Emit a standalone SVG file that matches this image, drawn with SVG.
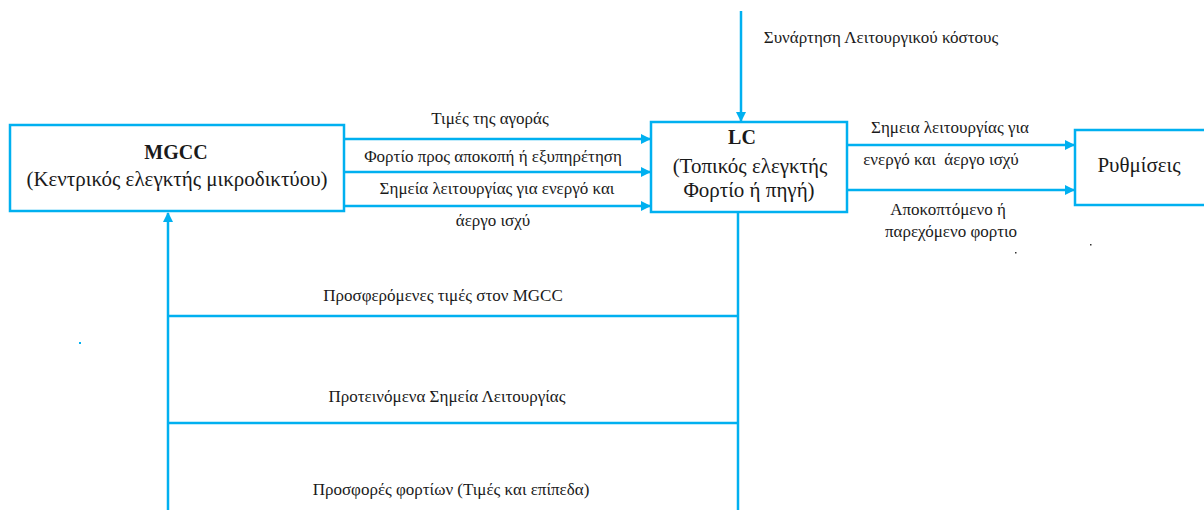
<svg xmlns="http://www.w3.org/2000/svg" width="1204" height="510" viewBox="0 0 1204 510">
  <style>
    .box { fill: #ffffff; stroke: #00B0F0; stroke-width: 2.5; }
    .wire { fill: none; stroke: #00B0F0; stroke-width: 2.5; }
    text { font-family: "Liberation Serif", "Times New Roman", "DejaVu Serif", serif; fill: #1a1a1a; text-anchor: middle; }
    .lbl { font-size: 17px; }
    .big { font-size: 21px; }
    .bold { font-weight: bold; font-size: 20px; }
    .pre { white-space: pre; }
  </style>
  <defs>
    <marker id="arrow" viewBox="0 0 10 10" refX="9" refY="5" markerWidth="4" markerHeight="4" orient="auto" markerUnits="strokeWidth">
      <path d="M0,0 L10,5 L0,10 z" fill="#00B0F0"/>
    </marker>
  </defs>

  <rect width="1204" height="510" fill="#ffffff"/>

  <!-- connectors -->
  <g id="connectors">
    <!-- MGCC to LC -->
    <line class="wire" x1="344" y1="139" x2="650" y2="139" marker-end="url(#arrow)"/>
    <line class="wire" x1="344" y1="172" x2="650" y2="172" marker-end="url(#arrow)"/>
    <line class="wire" x1="344" y1="206" x2="650" y2="206" marker-end="url(#arrow)"/>
    <!-- operating cost function into LC -->
    <line class="wire" x1="741" y1="11" x2="741" y2="121" marker-end="url(#arrow)"/>
    <!-- LC to settings -->
    <line class="wire" x1="847" y1="145" x2="1074" y2="145" marker-end="url(#arrow)"/>
    <line class="wire" x1="847" y1="190" x2="1074" y2="190" marker-end="url(#arrow)"/>
    <!-- feedback bus LC to MGCC -->
    <line class="wire" x1="738" y1="212" x2="738" y2="510"/>
    <line class="wire" x1="168" y1="510" x2="168" y2="213" marker-end="url(#arrow)"/>
    <line class="wire" x1="168" y1="316" x2="738" y2="316"/>
    <line class="wire" x1="168" y1="423" x2="738" y2="423"/>
  </g>

  <!-- connector labels -->
  <g id="labels">
    <text class="lbl" x="490" y="124">Τιμές της αγοράς</text>
    <text class="lbl" x="493" y="162">Φορτίο προς αποκοπή ή εξυπηρέτηση</text>
    <text class="lbl" x="497" y="194">Σημεία λειτουργίας για ενεργό και</text>
    <text class="lbl" x="493" y="226">άεργο ισχύ</text>
    <text class="lbl" x="881" y="43">Συνάρτηση Λειτουργικού κόστους</text>
    <text class="lbl" x="950" y="133">Σημεια λειτουργίας για</text>
    <text class="lbl pre" x="941" y="165" xml:space="preserve">ενεργό και  άεργο ισχύ</text>
    <text class="lbl" x="948" y="215">Αποκοπτόμενο ή</text>
    <text class="lbl" x="951" y="237">παρεχόμενο φορτιο</text>
    <text class="lbl" x="443" y="301">Προσφερόμενες τιμές στον MGCC</text>
    <text class="lbl" x="447" y="402">Προτεινόμενα Σημεία Λειτουργίας</text>
    <text class="lbl" x="451" y="495">Προσφορές φορτίων (Τιμές και επίπεδα)</text>
  </g>

  <!-- MGCC node -->
  <g id="mgcc">
    <rect class="box" x="10" y="125" width="334" height="86"/>
    <text class="bold" x="176" y="159">MGCC</text>
    <text class="big" x="177" y="186">(Κεντρικός ελεγκτής μικροδικτύου)</text>
  </g>

  <!-- LC node -->
  <g id="lc">
    <rect class="box" x="651" y="122" width="196" height="90"/>
    <text class="bold" x="742" y="144">LC</text>
    <text class="big" x="750" y="173">(Τοπικός ελεγκτής</text>
    <text class="big" x="749" y="197">Φορτίο ή πηγή)</text>
  </g>

  <!-- settings node -->
  <g id="settings">
    <rect class="box" x="1075" y="130" width="140" height="75"/>
    <text class="big" x="1139" y="172">Ρυθμίσεις</text>
  </g>

  <!-- stray specks -->
  <rect x="79" y="342" width="2" height="2" fill="#00B0F0"/>
  <rect x="1090" y="244" width="1.5" height="1.5" fill="#333333"/>
  <rect x="1015" y="252" width="1.5" height="1.5" fill="#333333"/>
</svg>
